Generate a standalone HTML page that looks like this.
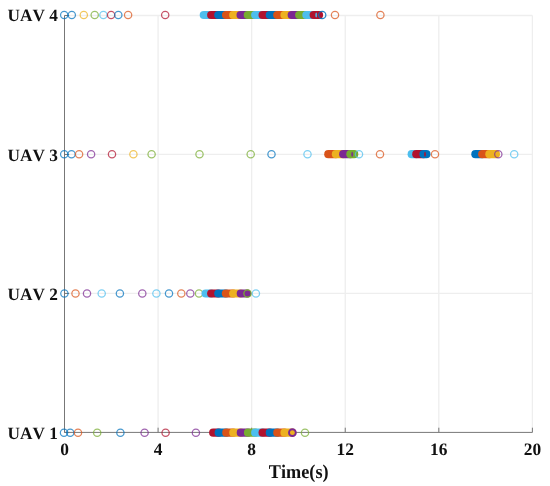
<!DOCTYPE html>
<html><head><meta charset="utf-8"><title>UAV timeline</title>
<style>
html,body{margin:0;padding:0;background:#fff;}
body{width:550px;height:486px;overflow:hidden;}
svg{display:block;}
text{font-kerning:none;}
</style></head><body>
<svg width="550" height="486" viewBox="0 0 550 486">
<rect width="550" height="486" fill="#fff"/>
<path d="M64.50 293.43H532.40M64.50 154.47H532.40M64.50 15.50H532.40M158.08 15.50V432.40M251.66 15.50V432.40M345.24 15.50V432.40M438.82 15.50V432.40M532.40 15.50V432.40" stroke="#eeeeee" stroke-width="1.3" fill="none"/>
<path d="M64.50 15.50V432.40H532.40M64.50 432.40v-4.7M158.08 432.40v-4.7M251.66 432.40v-4.7M345.24 432.40v-4.7M438.82 432.40v-4.7M532.40 432.40v-4.7M64.50 432.40h4.7M64.50 293.43h4.7M64.50 154.47h4.7M64.50 15.50h4.7" stroke="#777777" stroke-width="1" fill="none"/>
<circle cx="64.2" cy="15.05" r="3.65" fill="none" stroke="#0072BD" stroke-width="1.25" stroke-opacity="0.72"/>
<circle cx="71.8" cy="15.05" r="3.65" fill="none" stroke="#0072BD" stroke-width="1.25" stroke-opacity="0.72"/>
<circle cx="83.8" cy="15.05" r="3.65" fill="none" stroke="#EDB120" stroke-width="1.25" stroke-opacity="0.72"/>
<circle cx="94.7" cy="15.05" r="3.65" fill="none" stroke="#77AC30" stroke-width="1.25" stroke-opacity="0.72"/>
<circle cx="103.4" cy="15.05" r="3.65" fill="none" stroke="#4DBEEE" stroke-width="1.25" stroke-opacity="0.72"/>
<circle cx="111.1" cy="15.05" r="3.65" fill="none" stroke="#B0122E" stroke-width="1.25" stroke-opacity="0.72"/>
<circle cx="118.3" cy="15.05" r="3.65" fill="none" stroke="#0072BD" stroke-width="1.25" stroke-opacity="0.72"/>
<circle cx="128.1" cy="15.05" r="3.65" fill="none" stroke="#D95319" stroke-width="1.25" stroke-opacity="0.72"/>
<circle cx="165.2" cy="15.05" r="3.65" fill="none" stroke="#B0122E" stroke-width="1.25" stroke-opacity="0.72"/>
<rect x="199.70" y="11.00" width="15.50" height="8.10" rx="4.05" fill="#4DBEEE"/>
<rect x="207.10" y="11.00" width="15.20" height="8.10" rx="4.05" fill="#B0122E"/>
<rect x="214.20" y="11.00" width="15.90" height="8.10" rx="4.05" fill="#0072BD"/>
<rect x="222.00" y="11.00" width="15.20" height="8.10" rx="4.05" fill="#D95319"/>
<rect x="229.10" y="11.00" width="15.50" height="8.10" rx="4.05" fill="#EDB120"/>
<rect x="236.50" y="11.00" width="15.30" height="8.10" rx="4.05" fill="#7C2892"/>
<rect x="243.70" y="11.00" width="15.50" height="8.10" rx="4.05" fill="#77AC30"/>
<rect x="251.10" y="11.00" width="15.50" height="8.10" rx="4.05" fill="#4DBEEE"/>
<rect x="258.50" y="11.00" width="15.30" height="8.10" rx="4.05" fill="#B0122E"/>
<rect x="265.70" y="11.00" width="15.60" height="8.10" rx="4.05" fill="#0072BD"/>
<rect x="273.20" y="11.00" width="15.30" height="8.10" rx="4.05" fill="#D95319"/>
<rect x="280.40" y="11.00" width="15.30" height="8.10" rx="4.05" fill="#EDB120"/>
<rect x="287.60" y="11.00" width="15.60" height="8.10" rx="4.05" fill="#7C2892"/>
<rect x="295.10" y="11.00" width="15.30" height="8.10" rx="4.05" fill="#77AC30"/>
<rect x="302.30" y="11.00" width="15.40" height="8.10" rx="4.05" fill="#4DBEEE"/>
<rect x="309.60" y="11.00" width="13.50" height="8.10" rx="4.05" fill="#B0122E"/>
<ellipse cx="316.2" cy="15.05" rx="0.95" ry="2.5" fill="#4DBEEE" fill-opacity="0.9"/>
<circle cx="322.2" cy="15.05" r="3.65" fill="none" stroke="#0072BD" stroke-width="1.25" stroke-opacity="0.85"/>
<circle cx="335.0" cy="15.05" r="3.65" fill="none" stroke="#D95319" stroke-width="1.25" stroke-opacity="0.72"/>
<circle cx="380.4" cy="15.05" r="3.65" fill="none" stroke="#D95319" stroke-width="1.25" stroke-opacity="0.72"/>
<circle cx="64.2" cy="154.17" r="3.65" fill="none" stroke="#0072BD" stroke-width="1.25" stroke-opacity="0.72"/>
<circle cx="71.5" cy="154.17" r="3.65" fill="none" stroke="#0072BD" stroke-width="1.25" stroke-opacity="0.72"/>
<circle cx="79.1" cy="154.17" r="3.65" fill="none" stroke="#D95319" stroke-width="1.25" stroke-opacity="0.72"/>
<circle cx="91.1" cy="154.17" r="3.65" fill="none" stroke="#7C2892" stroke-width="1.25" stroke-opacity="0.72"/>
<circle cx="112.0" cy="154.17" r="3.65" fill="none" stroke="#B0122E" stroke-width="1.25" stroke-opacity="0.72"/>
<circle cx="133.4" cy="154.17" r="3.65" fill="none" stroke="#EDB120" stroke-width="1.25" stroke-opacity="0.72"/>
<circle cx="151.6" cy="154.17" r="3.65" fill="none" stroke="#77AC30" stroke-width="1.25" stroke-opacity="0.72"/>
<circle cx="199.5" cy="154.17" r="3.65" fill="none" stroke="#77AC30" stroke-width="1.25" stroke-opacity="0.72"/>
<circle cx="250.7" cy="154.17" r="3.65" fill="none" stroke="#77AC30" stroke-width="1.25" stroke-opacity="0.72"/>
<circle cx="271.5" cy="154.17" r="3.65" fill="none" stroke="#0072BD" stroke-width="1.25" stroke-opacity="0.72"/>
<circle cx="307.5" cy="154.17" r="3.65" fill="none" stroke="#4DBEEE" stroke-width="1.25" stroke-opacity="0.72"/>
<rect x="324.20" y="150.12" width="15.70" height="8.10" rx="4.05" fill="#D95319"/>
<rect x="331.80" y="150.12" width="15.40" height="8.10" rx="4.05" fill="#EDB120"/>
<rect x="339.10" y="150.12" width="15.30" height="8.10" rx="4.05" fill="#7C2892"/>
<rect x="346.30" y="150.12" width="12.00" height="8.10" rx="4.05" fill="#77AC30"/>
<ellipse cx="352.2" cy="154.17" rx="0.95" ry="2.5" fill="#7C2892" fill-opacity="0.9"/>
<circle cx="359.0" cy="154.17" r="3.65" fill="none" stroke="#4DBEEE" stroke-width="1.25" stroke-opacity="0.72"/>
<circle cx="380.0" cy="154.17" r="3.65" fill="none" stroke="#D95319" stroke-width="1.25" stroke-opacity="0.72"/>
<rect x="407.60" y="150.12" width="12.70" height="8.10" rx="4.05" fill="#4DBEEE"/>
<rect x="412.20" y="150.12" width="15.30" height="8.10" rx="4.05" fill="#B0122E"/>
<rect x="419.40" y="150.12" width="11.10" height="8.10" rx="4.05" fill="#0072BD"/>
<ellipse cx="425.0" cy="154.17" rx="0.95" ry="2.5" fill="#B0122E" fill-opacity="0.9"/>
<circle cx="435.0" cy="154.17" r="3.65" fill="none" stroke="#D95319" stroke-width="1.25" stroke-opacity="0.72"/>
<rect x="471.30" y="150.12" width="14.90" height="8.10" rx="4.05" fill="#0072BD"/>
<rect x="478.10" y="150.12" width="15.30" height="8.10" rx="4.05" fill="#D95319"/>
<rect x="485.30" y="150.12" width="14.70" height="8.10" rx="4.05" fill="#EDB120"/>
<circle cx="498.3" cy="154.17" r="3.65" fill="none" stroke="#7C2892" stroke-width="1.25" stroke-opacity="0.72"/>
<circle cx="514.2" cy="154.17" r="3.65" fill="none" stroke="#4DBEEE" stroke-width="1.25" stroke-opacity="0.72"/>
<circle cx="64.4" cy="293.53" r="3.65" fill="none" stroke="#0072BD" stroke-width="1.25" stroke-opacity="0.72"/>
<circle cx="75.5" cy="293.53" r="3.65" fill="none" stroke="#D95319" stroke-width="1.25" stroke-opacity="0.72"/>
<circle cx="87.0" cy="293.53" r="3.65" fill="none" stroke="#7C2892" stroke-width="1.25" stroke-opacity="0.72"/>
<circle cx="101.7" cy="293.53" r="3.65" fill="none" stroke="#4DBEEE" stroke-width="1.25" stroke-opacity="0.72"/>
<circle cx="119.9" cy="293.53" r="3.65" fill="none" stroke="#0072BD" stroke-width="1.25" stroke-opacity="0.72"/>
<circle cx="142.3" cy="293.53" r="3.65" fill="none" stroke="#7C2892" stroke-width="1.25" stroke-opacity="0.72"/>
<circle cx="156.4" cy="293.53" r="3.65" fill="none" stroke="#4DBEEE" stroke-width="1.25" stroke-opacity="0.72"/>
<circle cx="169.0" cy="293.53" r="3.65" fill="none" stroke="#0072BD" stroke-width="1.25" stroke-opacity="0.72"/>
<circle cx="181.3" cy="293.53" r="3.65" fill="none" stroke="#D95319" stroke-width="1.25" stroke-opacity="0.72"/>
<circle cx="190.3" cy="293.53" r="3.65" fill="none" stroke="#7C2892" stroke-width="1.25" stroke-opacity="0.72"/>
<circle cx="199.0" cy="293.53" r="3.65" fill="none" stroke="#77AC30" stroke-width="1.25" stroke-opacity="0.72"/>
<rect x="201.50" y="289.48" width="13.70" height="8.10" rx="4.05" fill="#4DBEEE"/>
<rect x="207.10" y="289.48" width="15.20" height="8.10" rx="4.05" fill="#B0122E"/>
<rect x="214.20" y="289.48" width="15.70" height="8.10" rx="4.05" fill="#0072BD"/>
<rect x="221.80" y="289.48" width="15.40" height="8.10" rx="4.05" fill="#D95319"/>
<rect x="229.10" y="289.48" width="15.70" height="8.10" rx="4.05" fill="#EDB120"/>
<rect x="236.70" y="289.48" width="14.40" height="8.10" rx="4.05" fill="#7C2892"/>
<circle cx="247.5" cy="293.53" r="3.65" fill="none" stroke="#77AC30" stroke-width="1.25" stroke-opacity="1"/>
<circle cx="255.9" cy="293.53" r="3.65" fill="none" stroke="#4DBEEE" stroke-width="1.25" stroke-opacity="0.72"/>
<circle cx="64.0" cy="432.65" r="3.65" fill="none" stroke="#0072BD" stroke-width="1.25" stroke-opacity="0.72"/>
<circle cx="70.2" cy="432.65" r="3.65" fill="none" stroke="#0072BD" stroke-width="1.25" stroke-opacity="0.72"/>
<circle cx="78.0" cy="432.65" r="3.65" fill="none" stroke="#D95319" stroke-width="1.25" stroke-opacity="0.72"/>
<circle cx="97.2" cy="432.65" r="3.65" fill="none" stroke="#77AC30" stroke-width="1.25" stroke-opacity="0.72"/>
<circle cx="120.4" cy="432.65" r="3.65" fill="none" stroke="#0072BD" stroke-width="1.25" stroke-opacity="0.72"/>
<circle cx="144.6" cy="432.65" r="3.65" fill="none" stroke="#7C2892" stroke-width="1.25" stroke-opacity="0.72"/>
<circle cx="165.6" cy="432.65" r="3.65" fill="none" stroke="#B0122E" stroke-width="1.25" stroke-opacity="0.72"/>
<circle cx="195.9" cy="432.65" r="3.65" fill="none" stroke="#7C2892" stroke-width="1.25" stroke-opacity="0.72"/>
<rect x="209.10" y="428.60" width="13.60" height="8.10" rx="4.05" fill="#B0122E"/>
<rect x="214.60" y="428.60" width="15.70" height="8.10" rx="4.05" fill="#0072BD"/>
<rect x="222.20" y="428.60" width="15.10" height="8.10" rx="4.05" fill="#D95319"/>
<rect x="229.20" y="428.60" width="15.60" height="8.10" rx="4.05" fill="#EDB120"/>
<rect x="236.70" y="428.60" width="15.30" height="8.10" rx="4.05" fill="#7C2892"/>
<rect x="243.90" y="428.60" width="15.30" height="8.10" rx="4.05" fill="#77AC30"/>
<rect x="251.10" y="428.60" width="15.50" height="8.10" rx="4.05" fill="#4DBEEE"/>
<rect x="258.50" y="428.60" width="15.30" height="8.10" rx="4.05" fill="#B0122E"/>
<rect x="265.70" y="428.60" width="15.60" height="8.10" rx="4.05" fill="#0072BD"/>
<rect x="273.20" y="428.60" width="15.30" height="8.10" rx="4.05" fill="#D95319"/>
<rect x="280.40" y="428.60" width="15.90" height="8.10" rx="4.05" fill="#EDB120"/>
<circle cx="292.4" cy="432.65" r="3.4" fill="none" stroke="#7C2892" stroke-width="1.9" stroke-opacity="1"/>
<circle cx="305.0" cy="432.65" r="3.65" fill="none" stroke="#77AC30" stroke-width="1.25" stroke-opacity="0.72"/>
<text x="57.9" y="439.00" font-family="Liberation Serif, serif" font-weight="bold" text-rendering="geometricPrecision" font-size="17.3" text-anchor="end" fill="#111">UAV 1</text>
<text x="57.9" y="299.63" font-family="Liberation Serif, serif" font-weight="bold" text-rendering="geometricPrecision" font-size="17.3" text-anchor="end" fill="#111">UAV 2</text>
<text x="57.9" y="160.67" font-family="Liberation Serif, serif" font-weight="bold" text-rendering="geometricPrecision" font-size="17.3" text-anchor="end" fill="#111">UAV 3</text>
<text x="57.9" y="21.30" font-family="Liberation Serif, serif" font-weight="bold" text-rendering="geometricPrecision" font-size="17.3" text-anchor="end" fill="#111">UAV 4</text>
<text x="64.50" y="455.2" font-family="Liberation Serif, serif" font-weight="bold" text-rendering="geometricPrecision" font-size="17.4" text-anchor="middle" fill="#111">0</text>
<text x="158.08" y="455.2" font-family="Liberation Serif, serif" font-weight="bold" text-rendering="geometricPrecision" font-size="17.4" text-anchor="middle" fill="#111">4</text>
<text x="251.66" y="455.2" font-family="Liberation Serif, serif" font-weight="bold" text-rendering="geometricPrecision" font-size="17.4" text-anchor="middle" fill="#111">8</text>
<text x="345.24" y="455.2" font-family="Liberation Serif, serif" font-weight="bold" text-rendering="geometricPrecision" font-size="17.4" text-anchor="middle" fill="#111">12</text>
<text x="438.82" y="455.2" font-family="Liberation Serif, serif" font-weight="bold" text-rendering="geometricPrecision" font-size="17.4" text-anchor="middle" fill="#111">16</text>
<text x="532.40" y="455.2" font-family="Liberation Serif, serif" font-weight="bold" text-rendering="geometricPrecision" font-size="17.4" text-anchor="middle" fill="#111">20</text>
<text transform="translate(298.7 477.6) scale(0.985 1.045)" font-family="Liberation Serif, serif" font-weight="bold" text-rendering="geometricPrecision" font-size="18.5" text-anchor="middle" fill="#111">Time(s)</text>
</svg>
</body></html>
